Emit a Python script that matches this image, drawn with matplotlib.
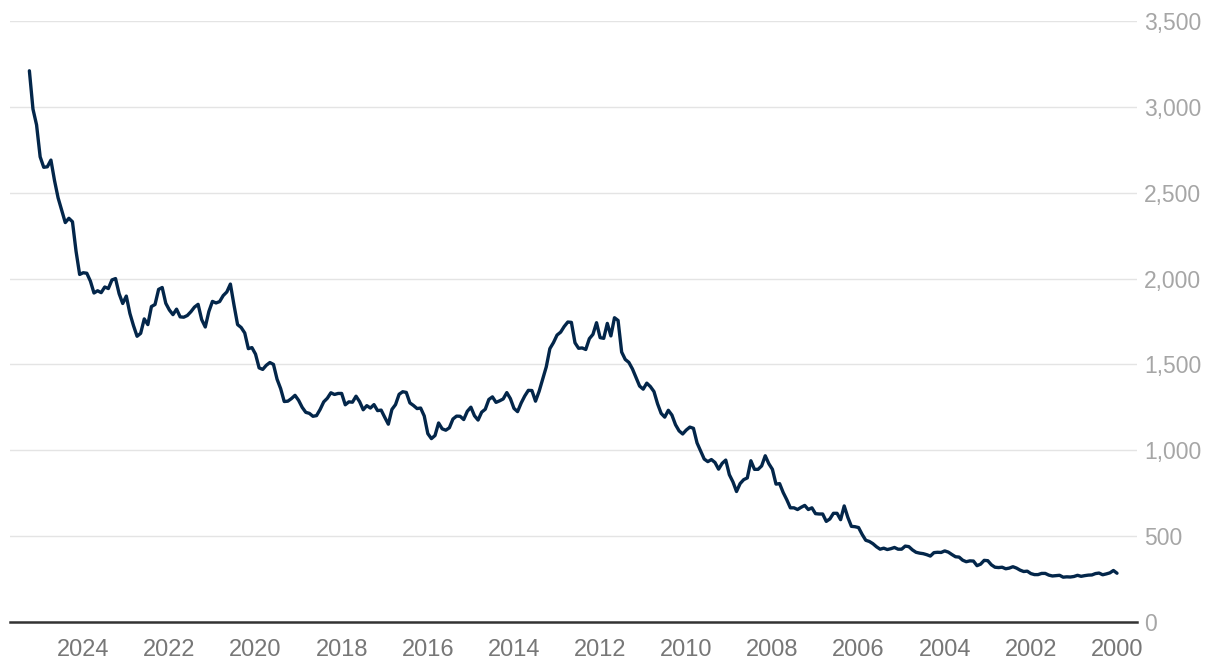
import numpy as np
import matplotlib
matplotlib.use("Agg")
import matplotlib.pyplot as plt

# Monthly values, January..December, starting January 2000
p2000 = [284, 300, 286, 280, 275, 285, 282, 274, 273, 270, 266, 272]
p2001 = [265, 262, 263, 261, 272, 270, 268, 273, 283, 283, 276, 276]
p2002 = [282, 296, 294, 302, 314, 322, 314, 310, 319, 317, 319, 333]
p2003 = [357, 359, 337, 328, 355, 356, 351, 360, 378, 380, 393, 407]
p2004 = [414, 405, 406, 404, 384, 392, 398, 401, 406, 420, 439, 442]
p2005 = [424, 424, 434, 427, 422, 430, 424, 438, 456, 469, 476, 510]
p2006 = [550, 555, 557, 610, 676, 596, 633, 633, 600, 586, 629, 629]
p2007 = [631, 665, 655, 679, 668, 655, 665, 665, 712, 754, 806, 803]
p2008 = [889, 922, 968, 909, 889, 889, 939, 839, 829, 806, 760, 816]
p2009 = [858, 943, 924, 890, 929, 946, 934, 949, 996, 1043, 1128, 1135]
p2010 = [1118, 1095, 1113, 1149, 1205, 1233, 1193, 1215, 1271, 1342, 1371, 1391]
p2011 = [1356, 1374, 1424, 1474, 1512, 1529, 1572, 1756, 1772, 1666, 1739, 1652]
p2012 = [1656, 1743, 1675, 1650, 1587, 1596, 1594, 1626, 1745, 1747, 1721, 1688]
p2013 = [1671, 1627, 1592, 1486, 1414, 1343, 1286, 1348, 1349, 1316, 1275, 1225]
p2014 = [1244, 1301, 1336, 1299, 1288, 1279, 1311, 1296, 1239, 1222, 1176, 1201]
p2015 = [1251, 1227, 1179, 1198, 1199, 1182, 1131, 1117, 1125, 1159, 1086, 1068]
p2016 = [1097, 1200, 1246, 1243, 1261, 1276, 1337, 1341, 1326, 1266, 1238, 1152]
p2017 = [1192, 1234, 1231, 1266, 1246, 1260, 1236, 1283, 1315, 1280, 1282, 1265]
p2018 = [1331, 1331, 1325, 1335, 1303, 1282, 1238, 1202, 1198, 1215, 1221, 1250]
p2019 = [1291, 1320, 1301, 1286, 1284, 1359, 1414, 1500, 1511, 1495, 1471, 1480]
p2020 = [1560, 1598, 1592, 1683, 1715, 1732, 1846, 1968, 1922, 1901, 1866, 1858]
p2021 = [1867, 1808, 1718, 1761, 1850, 1834, 1807, 1785, 1775, 1777, 1822, 1790]
p2022 = [1817, 1856, 1948, 1937, 1849, 1837, 1732, 1765, 1681, 1664, 1726, 1797]
p2023 = [1898, 1855, 1912, 2000, 1992, 1942, 1951, 1918, 1929, 1916, 1985, 2031]
p2024 = [2034, 2024, 2159, 2331, 2351, 2326, 2398, 2470, 2571, 2690, 2651, 2648]
p2025 = [2709, 2895, 2987, 3210]

start_year = 2000
x_ticks = [2024, 2022, 2020, 2018, 2016, 2014, 2012, 2010, 2008, 2006, 2004, 2002, 2000]
y_ticks = [0, 500, 1000, 1500, 2000, 2500, 3000, 3500]

values = np.array(p2000 + p2001 + p2002 + p2003 + p2004 + p2005 + p2006 + p2007 +
                  p2008 + p2009 + p2010 + p2011 + p2012 + p2013 + p2014 + p2015 +
                  p2016 + p2017 + p2018 + p2019 + p2020 + p2021 + p2022 + p2023 +
                  p2024 + p2025, dtype=float)
t = start_year + np.arange(len(values)) / 12.0

plt.rcParams['font.family'] = ['Liberation Sans', 'DejaVu Sans']

W, H = 1220, 668
fig = plt.figure(figsize=(W / 100, H / 100), dpi=100)
ax = fig.add_axes([10 / W, 46 / H, 1127 / W, 601 / H])

ax.plot(t, values, color='#03264a', lw=2.4, solid_joinstyle='round',
        solid_capstyle='round', zorder=3)

ax.set_xlim(2025.70, 1999.536)
ax.set_ylim(0, 3500)

ax.set_yticks(y_ticks)
ax.set_yticklabels([f"{v:,}" for v in y_ticks])
ax.set_xticks(x_ticks)
ax.set_xticklabels([str(v) for v in x_ticks])

ax.yaxis.tick_right()
ax.grid(axis='y', color='#e4e4e4', lw=1.0, zorder=0)
ax.grid(axis='x', visible=False)
for s in ['top', 'left', 'right']:
    ax.spines[s].set_visible(False)
ax.spines['bottom'].set_color('#333333')
ax.spines['bottom'].set_linewidth(1.8)
ax.spines['bottom'].set_zorder(4)

ax.tick_params(axis='y', length=0, pad=5, labelsize=16.5, labelcolor='#a6a6a6')
ax.tick_params(axis='x', length=0, pad=12, labelsize=17, labelcolor='#777777')

fig.savefig('out.png', dpi=100, facecolor='white')
